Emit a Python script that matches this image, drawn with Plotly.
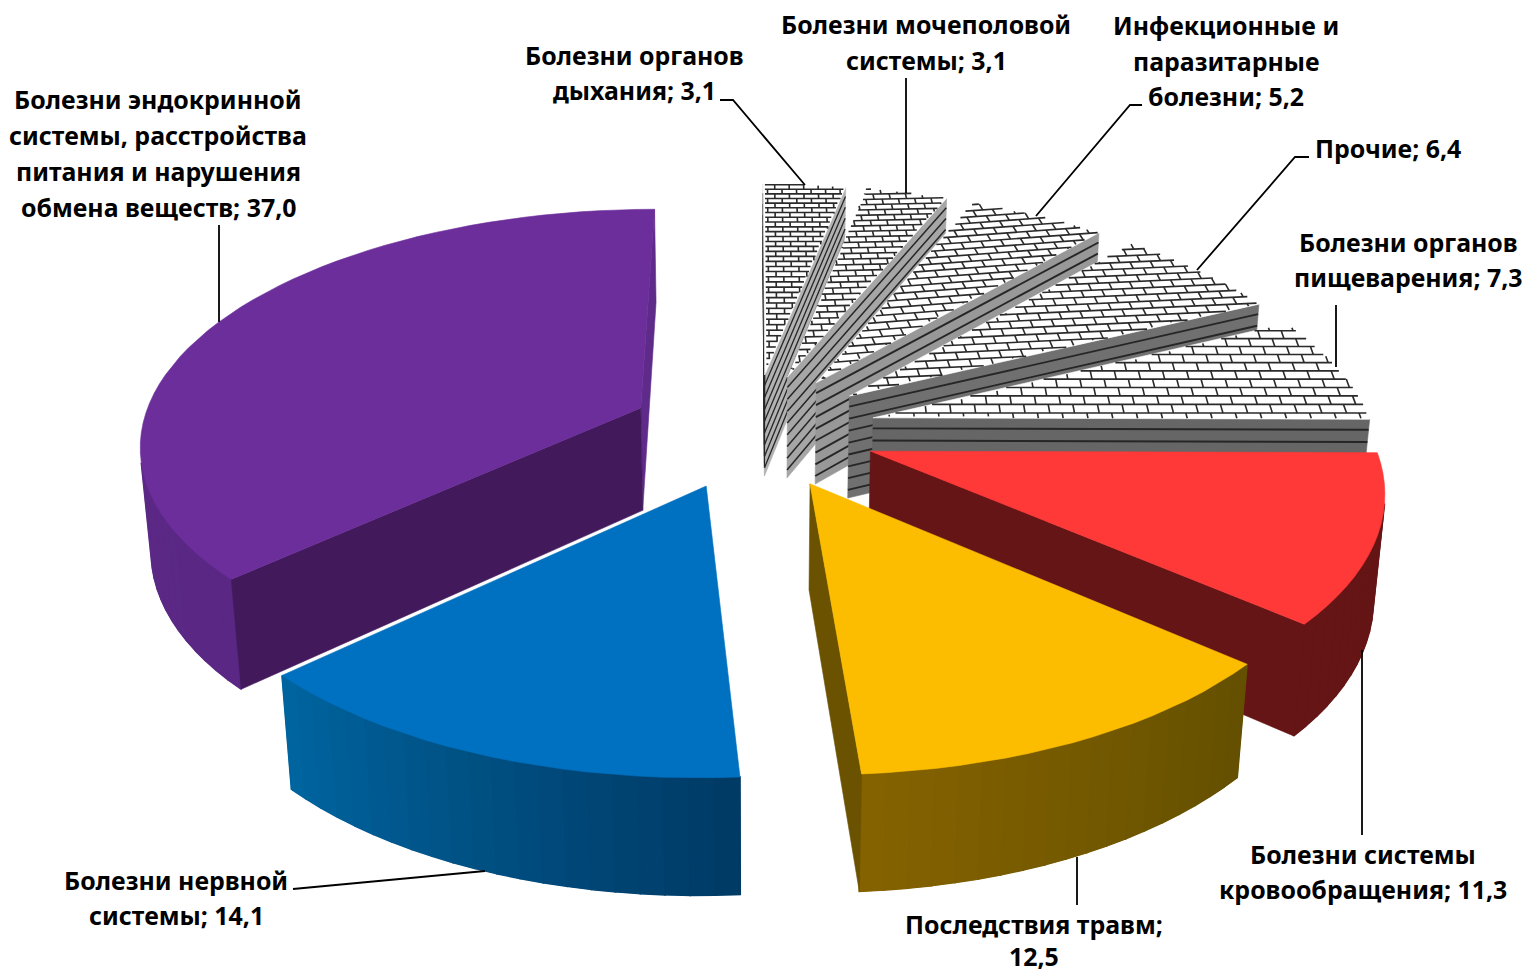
import math
import numpy as np
import plotly.graph_objects as go

# ---------- data ----------
categories = ["Болезни органов дыхания", "Болезни мочеполовой системы",
              "Инфекционные и паразитарные болезни", "Прочие",
              "Болезни органов пищеварения", "Болезни системы кровообращения",
              "Последствия травм", "Болезни нервной системы",
              "Болезни эндокринной системы, расстройства питания и нарушения обмена веществ"]
values = [3.1, 3.1, 5.2, 6.4, 7.3, 11.3, 12.5, 14.1, 37.0]
label_lines = [["Болезни органов", "дыхания; {v}"],
               ["Болезни мочеполовой", "системы; {v}"],
               ["Инфекционные и", "паразитарные", "болезни; {v}"],
               ["Прочие; {v}"],
               ["Болезни органов", "пищеварения; {v}"],
               ["Болезни системы", "кровообращения; {v}"],
               ["Последствия травм;", "{v}"],
               ["Болезни нервной", "системы; {v}"],
               ["Болезни эндокринной", "системы, расстройства", "питания и нарушения", "обмена веществ; {v}"]]

# ---------- style / layout ----------
W, H = 1525, 973
CX, CY, R, EXPLODE, WALL = 753.0, 430.5, 500.0, 124.0, 119.0
TILT = math.radians(27.75)
DIST = 3115.0
SN, CS = math.sin(TILT), math.cos(TILT)
FONT = "Noto Sans"
FS = 24.9
label_x = [634, 926, 1226, 1388, 1408, 1363, 1034, 176, 158]
label_y = [[55, 90], [24, 60], [25, 61, 96], [148], [242, 277], [854, 889],
           [924, 956], [880, 915], [99, 135, 171, 207]]
leaders = [[(720, 100), (733, 100), (805, 185)],
           [(906, 78), (906, 193)],
           [(1142, 105), (1130, 105), (1036, 216)],
           [(1309, 157), (1295, 157), (1197, 270)],
           [(1336, 305), (1336, 367)],
           [(1362, 835), (1362, 650)],
           [(1077, 905), (1077, 857)],
           [(293, 889), (485, 871)],
           [(219, 225), (219, 322)]]
top_col = ["#ffffff"] * 5 + ["#ff3838", "#fcbd00", "#0070c0", "#6c2e9b"]
side_col = ["#b2b2b2", "#a6a6a6", "#989898", "#707070", "#666666",
            "#651515", "#6b5200", "#00528a", "#421a5c"]
# wall colour at the clockwise end of each slice, then at its other end
arc_cols = [("#b2b2b2", "#b2b2b2"), ("#a6a6a6", "#a6a6a6"), ("#989898", "#989898"),
            ("#707070", "#707070"), ("#666666", "#666666"),
            ("#651515", "#651515"), ("#846200", "#645000"),
            ("#00649f", "#003b66"), ("#5f2b8a", "#5a2884")]
brick = [(0, 13.5, 17), (3, 15, 19), (10, 17, 23), (6, 17, 23), (0, 19, 25)]
stripe_w = [1.3, 1.5, 1.9, 1.9, 1.9]
STRIPE = 13.9
STRIPE_OFFSET = 1.9
BRICK_LINE = 1.6


def proj(x, y, z=0.0):
    k = DIST / (DIST + y * CS - z * SN)
    return CX + x * k, CY - (y * SN + z * CS) * k


def hex2rgb(h):
    return [int(h[i:i + 2], 16) for i in (1, 3, 5)]


def mix(a, b, t):
    p, q = hex2rgb(a), hex2rgb(b)
    return "rgb(%d,%d,%d)" % tuple(round(p[i] + (q[i] - p[i]) * t) for i in range(3))


fig = go.Figure()


def poly(pts, color, lw=0.6):
    xs = [p[0] for p in pts] + [pts[0][0]]
    ys = [p[1] for p in pts] + [pts[0][1]]
    fig.add_trace(go.Scatter(x=xs, y=ys, mode="lines", fill="toself", fillcolor=color,
                             line=dict(color=color, width=lw), hoverinfo="skip",
                             showlegend=False))


def lines(segs, color, width):
    xs, ys = [], []
    for s in segs:
        for p in s:
            xs.append(p[0])
            ys.append(p[1])
        xs.append(None)
        ys.append(None)
    fig.add_trace(go.Scatter(x=xs, y=ys, mode="lines", line=dict(color=color, width=width),
                             hoverinfo="skip", showlegend=False))


cam = np.array([0.0, -DIST * CS, DIST * SN])
total = sum(values)
spans, a = [], 90.0
for v in values:
    b = a - v / total * 360.0
    spans.append((a, b))
    a = b


def faces(px, py, nx, ny):
    return (cam[0] - px) * nx + (cam[1] - py) * ny > 0


def draw_slice(i):
    a1, a2 = spans[i]  # a1 > a2, clockwise
    mid = math.radians((a1 + a2) / 2)
    ax, ay = EXPLODE * math.cos(mid), EXPLODE * math.sin(mid)
    th = np.radians(np.linspace(a2, a1, max(int((a1 - a2) / 2.5) + 2, 3)))
    rim = [(ax + R * math.cos(t), ay + R * math.sin(t)) for t in th]

    # arc wall: one continuous base, then the shaded steps over it
    c0, c1 = arc_cols[i]
    vis = []
    for j in range(len(rim) - 1):
        t = (th[j] + th[j + 1]) / 2
        p, q = rim[j], rim[j + 1]
        if faces((p[0] + q[0]) / 2, (p[1] + q[1]) / 2, math.cos(t), math.sin(t)):
            vis.append(j)
    if vis:
        base = [proj(*rim[j]) for j in vis] + [proj(*rim[vis[-1] + 1])]
        base += [proj(rim[j][0], rim[j][1], -WALL) for j in [vis[-1] + 1] + vis[::-1]]
        poly(base, mix(c0, c1, 0.5))
        for j in vis:
            p, q = rim[j], rim[j + 1]
            poly([proj(*p), proj(*q), proj(q[0], q[1], -WALL), proj(p[0], p[1], -WALL)],
                 mix(c0, c1, j / max(len(rim) - 2, 1)), lw=1.6)

    # radial walls that face the viewer
    ends = [(rim[0], math.sin(th[0]), -math.cos(th[0]), side_col[i]),
            (rim[-1], -math.sin(th[-1]), math.cos(th[-1]), side_col[i])]
    if i == 8:  # the far edge of the big slice catches the light like its rim
        ends[0] = (rim[0], ends[0][1], ends[0][2], c0)
    for e, nx, ny, col in ends:
        if faces(ax, ay, nx, ny):
            poly([proj(ax, ay), proj(*e), proj(e[0], e[1], -WALL), proj(ax, ay, -WALL)], col)
            if i < 5:
                segs = []
                for k in range(1, int(WALL / STRIPE) + 1):
                    z = -(k * STRIPE - STRIPE_OFFSET)
                    segs.append([proj(ax, ay, z), proj(e[0], e[1], z)])
                lines(segs, "#262626", stripe_w[i])

    # top face
    poly([proj(ax, ay)] + [proj(*p) for p in rim], top_col[i])

    # brick texture on the hatched slices
    if i < 5:
        rot, row, bw = brick[i]
        r = math.radians(rot)
        ux, uy, vx, vy = math.cos(r), math.sin(r), -math.sin(r), math.cos(r)

        def inside(x, y):
            dx, dy = x - ax, y - ay
            if dx * dx + dy * dy > R * R:
                return False
            ang = math.degrees(math.atan2(dy, dx))
            return a2 <= ang <= a1

        def runs(pts):
            out, cur = [], []
            for p in pts:
                if inside(*p):
                    cur.append(p)
                else:
                    if len(cur) > 1:
                        out.append([proj(*cur[0]), proj(*cur[-1])])
                    cur = []
            if len(cur) > 1:
                out.append([proj(*cur[0]), proj(*cur[-1])])
            return out

        segs = []
        nrows = int(720 / row)
        for n in range(-nrows, nrows):
            v0 = n * row
            us = np.arange(-720, 720, 2.0)
            segs += runs([(u * ux + v0 * vx, u * uy + v0 * vy) for u in us])
            off = bw / 2 if n % 2 else 0
            for m in range(int(-720 / bw), int(720 / bw)):
                u = m * bw + off
                vs = np.linspace(v0, v0 + row, 6)
                segs += runs([(u * ux + w * vx, u * uy + w * vy) for w in vs])
        lines(segs, "#2a2a2a", BRICK_LINE)


for i in [0, 1, 2, 3, 4, 8, 5, 6, 7]:
    draw_slice(i)

for pts in leaders:
    lines([pts], "#000000", 1.8)

annotations = []
for i, rows in enumerate(label_lines):
    for txt, y in zip(rows, label_y[i]):
        annotations.append(dict(x=label_x[i], y=y, xref="x", yref="y", showarrow=False,
                                xanchor="center", yanchor="middle",
                                text="<b>%s</b>" % txt.format(v=str(values[i]).replace(".", ",")),
                                font=dict(family=FONT, size=FS, color="#000000")))

fig.update_layout(width=W, height=H, margin=dict(l=0, r=0, t=0, b=0),
                  paper_bgcolor="white", plot_bgcolor="white", showlegend=False,
                  xaxis=dict(range=[0, W], visible=False, fixedrange=True),
                  yaxis=dict(range=[H, 0], visible=False, fixedrange=True),
                  annotations=annotations)
fig.write_html("out.html", config={"displayModeBar": False},
               post_script="document.body.style.margin='0';")
